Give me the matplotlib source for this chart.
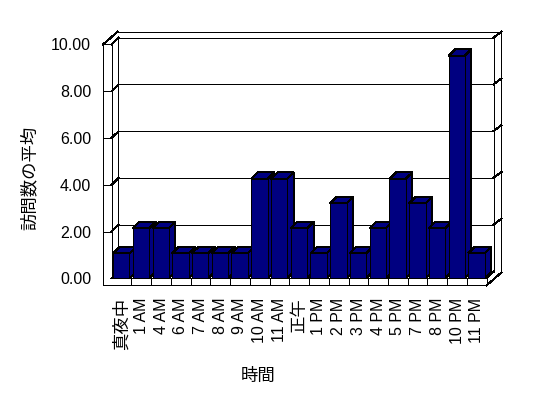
import matplotlib
matplotlib.use("Agg")
import matplotlib.pyplot as plt
from matplotlib.patches import Polygon, Rectangle

plt.rcParams['font.family'] = ['Liberation Sans', 'Noto Sans CJK JP']

# data
categories = ['真夜中', '1 AM', '4 AM', '6 AM', '7 AM', '8 AM', '9 AM', '10 AM', '11 AM',
              '正午', '1 PM', '2 PM', '3 PM', '4 PM', '5 PM', '7 PM', '8 PM', '10 PM', '11 PM']
avg_visits = [1.07, 2.14, 2.14, 1.07, 1.07, 1.07, 1.07, 4.25, 4.25,
              2.14, 1.07, 3.2, 1.07, 2.14, 4.25, 3.2, 2.14, 9.52, 1.07]
y_ticks = [0, 2, 4, 6, 8, 10]
y_label = '訪問数の平均'
x_label = '時間'

BAR_COLOR = '#000080'
LW = 0.72  # one pixel at 100 dpi

# fake 3d geometry, in data units
DX, DY = 0.345, 0.29      # depth of the box
BTX, BTY = 0.40, 0.257    # back wall thickness
WT = 0.44                 # left wall front face
FT = 0.30                 # floor thickness
BAR_W, BAR_GAP = 0.83, 0.07
BDX, BDY = DX * 0.95, DY * 0.95

n = len(categories)
x0, x1 = -0.5, n - 0.5
y1 = y_ticks[-1]

fig = plt.figure(figsize=(5.48, 3.98), dpi=100, facecolor='white')
ax = fig.add_axes([0.18796, 0.28317, 0.7270, 0.6372])
ax.set_xlim(x0 - WT, x1 + DX + BTX)
ax.set_ylim(-FT, y1 + DY + BTY)
ax.set_autoscale_on(False)
for s in ax.spines.values():
    s.set_visible(False)


def line(xs, ys, z=2):
    ax.plot(xs, ys, color='black', lw=LW, zorder=z, clip_on=False, antialiased=False)


# back wall gridlines + little ticks on wall edges
for v in y_ticks[1:]:
    line([x0 + DX, x1 + DX], [v + DY, v + DY])
    line([x0, x0 + DX], [v, v + DY])
    line([x0 - WT, x0], [v, v])
    line([x1 + DX, x1 + DX + BTX], [v + DY, v + DY + BTY])

# left wall
line([x0 - WT, x0 - WT], [-FT, y1])
line([x0 - WT, x0], [y1, y1])
line([x0, x0], [0, y1])
line([x0 + DX, x0 + DX], [DY, y1 + DY])
line([x0 - WT, x0 - WT + DX + BTX], [y1, y1 + DY + BTY])
line([x0, x0 + DX], [0, DY])

# back wall top and right side
line([x0 - WT + DX + BTX, x1 + DX + BTX], [y1 + DY + BTY, y1 + DY + BTY])
line([x1 + DX, x1 + DX], [DY, y1 + DY])
line([x1 + DX + BTX, x1 + DX + BTX], [-FT + DY + BTY, y1 + DY + BTY])

# floor
line([x0, x1], [0, 0])
line([x0 + DX, x1 + DX], [DY, DY])
line([x0 - WT, x1], [-FT, -FT])
line([x1, x1], [-FT, 0])
line([x1, x1 + DX], [0, DY])
line([x1, x1 + DX + BTX], [-FT, -FT + DY + BTY])
for k in range(1, n):
    line([x0 + k, x0 + k], [-FT, 0])

# bars, left to right so the next front face hides the previous side
for i, h in enumerate(avg_visits):
    xl = i - 0.5 + BAR_GAP
    xr = xl + BAR_W
    z = 5 + i
    style = dict(facecolor=BAR_COLOR, edgecolor='black', lw=LW, zorder=z, antialiased=False)
    ax.add_patch(Polygon([(xr, 0), (xr, h), (xr + BDX, h + BDY), (xr + BDX, BDY)],
                         closed=True, **style))
    ax.add_patch(Polygon([(xl, h), (xr, h), (xr + BDX, h + BDY), (xl + BDX, h + BDY)],
                         closed=True, **style))
    ax.add_patch(Rectangle((xl, 0), BAR_W, h, **style))

ax.set_yticks(y_ticks)
ax.set_yticklabels([f'{v:.2f}' for v in y_ticks], fontsize=11.5)
ax.set_xticks(range(n))
ax.set_xticklabels(categories, rotation=90, fontsize=11.5)
for t in ax.get_xticklabels():
    if not t.get_text().isascii():
        t.set_fontsize(12.5)
ax.tick_params(axis='y', length=0, pad=8.6)
ax.tick_params(axis='x', length=0, pad=9)

ax.set_xlabel(x_label, fontsize=12.5, va='center')
ax.xaxis.set_label_coords(0.390, -0.3557)
ax.set_ylabel(y_label, fontsize=12.5, va='center')
ax.yaxis.set_label_coords(-0.1857, 0.423)

fig.savefig('out.png', dpi=100, facecolor='white')
